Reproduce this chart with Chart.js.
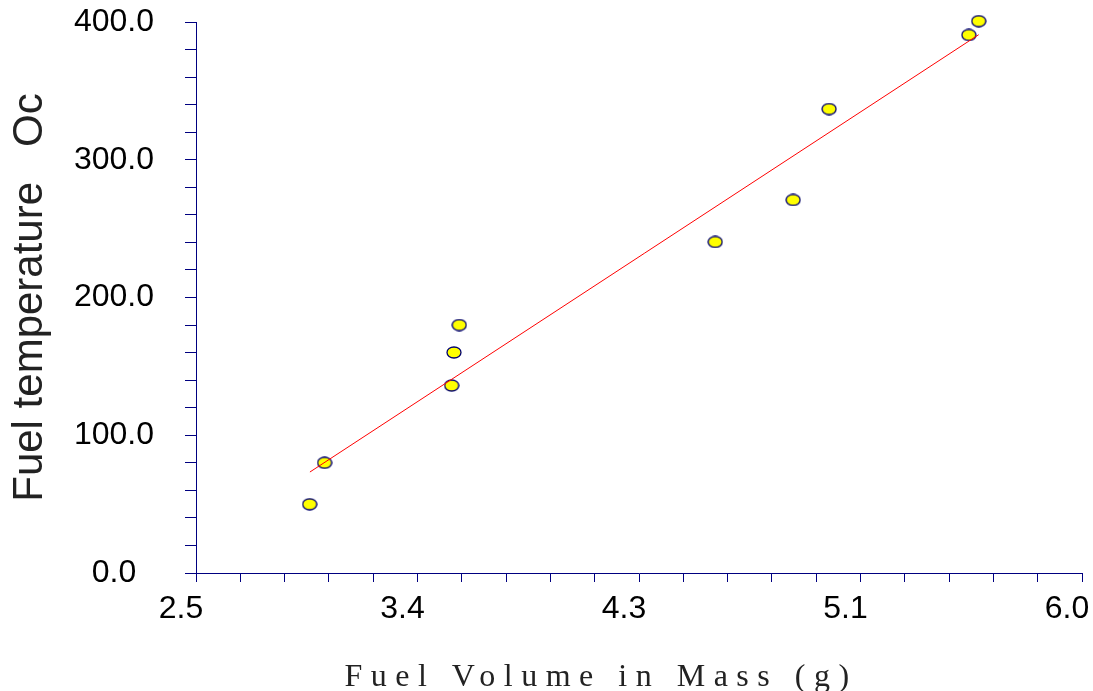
<!DOCTYPE html>
<html>
<head>
<meta charset="utf-8">
<script src="https://cdn.jsdelivr.net/npm/chart.js@4"></script>
<style>
  body { margin: 0; background: #fff; }
  #wrap { width: 1093px; height: 691px; position: relative; }
</style>
</head>
<body>
<div id="wrap"><canvas id="myChart"></canvas></div>
<script>
// values
const fuelMass = [2.949, 3.008, 3.510, 3.519, 3.540, 4.551, 4.859, 5.001, 5.553, 5.592];
const fuelTemp = [49.9, 80.0, 136.1, 160.1, 180.0, 240.3, 270.8, 336.8, 390.6, 400.6];

// fitted line, as drawn (end points)
const fitMass = [2.950, 5.592];
const fitTemp = [73.3, 390.8];

const xTickLabels = ["2.5", "3.4", "4.3", "5.1", "6.0"];
const yTickLabels = ["0.0", "100.0", "200.0", "300.0", "400.0"];

const xTitle = "Fuel Volume in Mass (g)";
const yTitle = "Fuel temperature   Oc";

const navy = "#000080";

// yellow oval marker
const dot = document.createElement("canvas");
dot.width = 16;
dot.height = 13;
const dc = dot.getContext("2d");
dc.beginPath();
dc.ellipse(8, 6.5, 7, 5.5, 0, 0, Math.PI * 2);
dc.fillStyle = "#ffff00";
dc.fill();
dc.strokeStyle = "#00006e";
dc.lineWidth = 1.3;
dc.stroke();

const points = fuelMass.map(function(x, i) { return {x: x, y: fuelTemp[i]}; });
const fit = fitMass.map(function(x, i) { return {x: x, y: fitTemp[i]}; });

// spaced-out x axis title
const xTitlePlugin = {
    id: "xTitle",
    afterDraw(chart) {
        const ctx = chart.ctx;
        const area = chart.chartArea;
        ctx.save();
        ctx.font = '32px "Liberation Serif"';
        ctx.letterSpacing = "8.5px";
        ctx.fillStyle = "#222";
        ctx.textAlign = "center";
        ctx.textBaseline = "alphabetic";
        ctx.fillText(xTitle, (area.left + area.right) / 2 - 38, area.bottom + 113);
        ctx.restore();
    }
};

const config = {
    type: "scatter",
    data: {
        datasets: [
            {
                data: fit,
                showLine: true,
                borderColor: "#ff0000",
                borderWidth: 1,
                pointRadius: 0,
                clip: false,
            },
            {
                data: points,
                pointStyle: dot,
                pointRadius: 7,
                clip: false,
            },
        ],
    },
    options: {
        responsive: true,
        maintainAspectRatio: false,
        animation: false,
        layout: {
            padding: {top: 22, right: 11, left: 0, bottom: 0},
        },
        plugins: {
            legend: {display: false},
            tooltip: {enabled: false},
        },
        scales: {
            x: {
                type: "linear",
                min: 2.5,
                max: 6.0,
                afterBuildTicks: function(axis) {
                    var ticks = [];
                    for (var i = 0; i <= 20; i++) {
                        ticks.push({value: 2.5 + 0.175 * i});
                    }
                    axis.ticks = ticks;
                },
                afterFit: function(axis) {
                    axis.height = 118;
                    axis.paddingLeft = 0;
                    axis.paddingRight = 0;
                },
                grid: {
                    drawOnChartArea: false,
                    drawTicks: true,
                    tickLength: 9,
                    color: navy,
                    lineWidth: 1,
                },
                border: {display: true, color: navy, width: 1},
                ticks: {
                    autoSkip: false,
                    maxRotation: 0,
                    padding: 8,
                    labelOffset: -15,
                    color: "#000",
                    font: {family: '"Liberation Sans", Arial, sans-serif', size: 32},
                    callback: function(value, index) {
                        return index % 5 === 0 ? xTickLabels[index / 5] : "";
                    },
                },
            },
            y: {
                type: "linear",
                min: 0,
                max: 400,
                afterBuildTicks: function(axis) {
                    var ticks = [];
                    for (var v = 0; v <= 400; v += 20) {
                        ticks.push({value: v});
                    }
                    axis.ticks = ticks;
                },
                afterFit: function(axis) {
                    axis.width = 196;
                    axis.paddingTop = 0;
                    axis.paddingBottom = 0;
                },
                grid: {
                    drawOnChartArea: false,
                    drawTicks: true,
                    tickLength: 11,
                    color: navy,
                    lineWidth: 1,
                },
                border: {display: true, color: navy, width: 1},
                title: {
                    display: true,
                    text: yTitle,
                    color: "#222",
                    padding: {top: 5, bottom: 0},
                    font: {family: '"Liberation Sans", Arial, sans-serif', size: 42, weight: "normal"},
                },
                ticks: {
                    autoSkip: false,
                    crossAlign: "center",
                    padding: 31,
                    color: "#000",
                    font: {family: '"Liberation Sans", Arial, sans-serif', size: 32},
                    callback: function(value) {
                        return value % 100 === 0 ? yTickLabels[value / 100] : "";
                    },
                },
            },
        },
    },
    plugins: [xTitlePlugin],
};

const myChart = new Chart(
    document.getElementById("myChart"),
    config,
);
</script>
</body>
</html>
